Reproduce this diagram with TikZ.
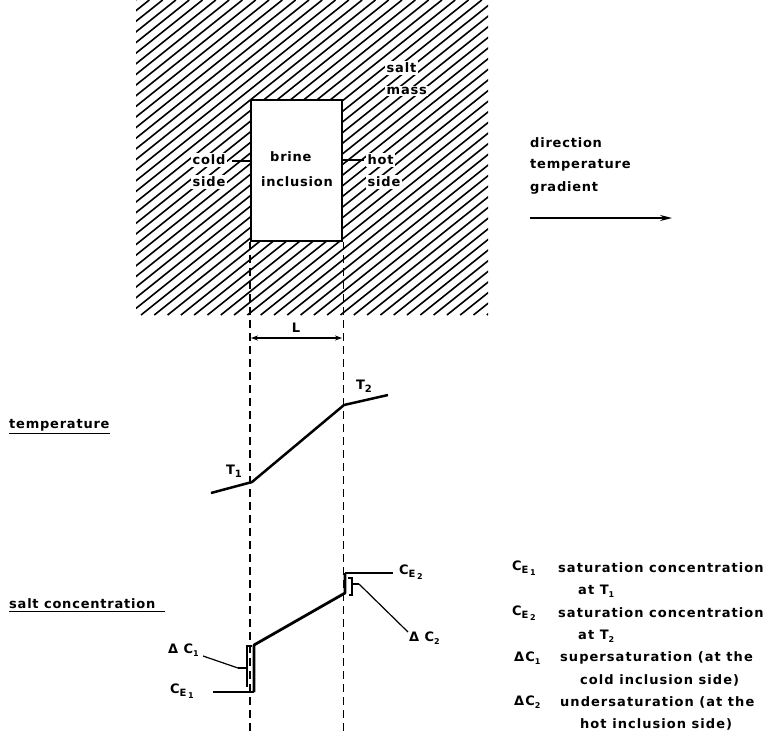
\documentclass[tikz,border=0pt]{standalone}
\usepackage{fontspec}
\setmainfont{DejaVu Sans}[LetterSpace=6]
\newfontfamily\legfont{DejaVu Sans}[LetterSpace=8]
\usetikzlibrary{arrows.meta,calc}
\newcommand{\lowsub}[1]{\raisebox{-0.4ex}{\fontsize{10}{10}\selectfont #1}}
\newcommand{\tinysub}[1]{\raisebox{-0.4ex}{\fontsize{8}{8}\selectfont #1}}
\begin{document}
\begin{tikzpicture}[x=1pt,y=-1pt,
  lbl/.style={font=\fontsize{13}{15}\selectfont\bfseries, inner sep=0pt, anchor=west},
  wlbl/.style={lbl, fill=white, inner sep=1.5pt},
  leg/.style={font=\legfont\fontsize{13}{15}\selectfont\bfseries, inner sep=0pt, anchor=west},
  hatch/.style={line width=1.6pt},
  guide/.style={line width=1.2pt, dash pattern=on 8pt off 5pt},
  curve/.style={line width=2.5pt, line join=round},
  thin/.style={line width=1.2pt},
  brk/.style={line width=1.4pt}]
\useasboundingbox (0,0) rectangle (770,742);
% salt mass hatching
\begin{scope}
  \clip (136,0) rectangle (488,315);
  \foreach \i in {0,...,58} \draw[hatch] ({-258+\i*13.3},315) -- ++(394,-315);
\end{scope}
% brine inclusion
\node[draw, fill=white, line width=2.2pt, minimum width=91pt, minimum height=141pt, inner sep=0pt] (box) at (296.5,170.5) {};
\node[lbl] (brine) at (270,157) {brine};
\node[lbl] (inclusion) at (261,182) {inclusion};
\node[wlbl] (salt) at (385,68) {salt};
\node[wlbl] (mass) at (385,91) {mass};
\node[wlbl] (cold) at (191,160) {cold};
\node[wlbl] (cside) at (191,182) {side};
\node[wlbl] (hot) at (366,160) {hot};
\node[wlbl] (hside) at (366,182) {side};
\coordinate (coldtip) at (232,161);
\coordinate (hottip) at (364,160);
\draw[thin] (coldtip) -- (coldtip -| box.west);
\draw[thin] (hottip) -- (hottip -| box.east);
% guide lines
\coordinate (gbot) at (0,735);
\draw[guide] (box.south west) -- (box.south west |- gbot);
\draw[guide] (box.south east) -- (box.south east |- gbot);
% L dimension
\coordinate (La) at (251,338);
\coordinate (Lb) at (342,338);
\draw[thin, {Stealth[length=7pt,width=5pt]}-{Stealth[length=7pt,width=5pt]}] (La) -- (Lb);
\node[lbl, anchor=center] (L) at (296,328) {L};
% direction
\node[lbl] (dir1) at (530,143) {direction};
\node[lbl] (dir2) at (530,165) {temperature};
\node[lbl] (dir3) at (530,188) {gradient};
\coordinate (da) at (530,218);
\coordinate (db) at (672,218);
\draw[thin, -{Stealth[length=12pt,width=6pt]}] (da) -- (db);
% temperature
\node[lbl] (templbl) at (9,425) {temperature};
\draw[thin] (templbl.south west) ++(0,2) -- ++(101,0);
\coordinate (t0) at (211,493);
\coordinate (t1) at (252,482);
\coordinate (t2) at (344,405);
\coordinate (t3) at (388,395);
\draw[curve] (t0) -- (t1) -- (t2) -- (t3);
\node[lbl, anchor=center] (T1) at (234,471) {T\lowsub{1}};
\node[lbl, anchor=center] (T2) at (364,386) {T\lowsub{2}};
% salt concentration
\node[lbl] (conclbl) at (9,604) {salt concentration};
\draw[thin] (conclbl.south west) ++(0,2) -- ++(156,0);
\coordinate (c0) at (254,692);
\coordinate (c1) at (254,645);
\coordinate (c2) at (345,593);
\coordinate (c3) at (345,573);
\draw[curve, line width=2.8pt, line cap=butt] (c0) -- (c1) -- (c2) -- (c3);
% Delta C1 bracket
\coordinate (b1t) at (247,646);
\coordinate (b1b) at (247,687);
\coordinate (b1m) at (247,668);
\draw[brk] ($(b1t)+(5,0)$) -- (b1t) -- (b1b);
\draw[brk] (b1m) -- ++(-9,0) coordinate (b1tip);
\node[lbl] (dc1) at (168,650) {Δ C\tinysub{1}};
\draw[thin] (203,656) -- (b1tip);
\node[lbl] (ce1) at (170,691) {C\lowsub{E\,\tinysub{1}}};
\draw[thin] (213,692) -- (c0);
% C_E2 and Delta C2
\node[lbl] (ce2) at (399,572) {C\lowsub{E\,\tinysub{2}}};
\draw[thin] (c3) -- (393,573);
\coordinate (b2t) at (352,578);
\coordinate (b2b) at (352,595);
\coordinate (b2m) at (352,584);
\draw[brk] ($(b2t)+(-4,0)$) -- (b2t) -- (b2b) -- ++(-3,0);
\draw[brk] (b2m) -- ++(7,0) coordinate (b2tip);
\node[lbl] (dc2) at (409,638) {Δ C\tinysub{2}};
\draw[thin] (b2tip) -- (408,632);
% legend
\node[leg] (l1a) at (512,568) {C\lowsub{E\,\tinysub{1}}};
\node[leg] (l1b) at (558,568) {saturation concentration};
\node[leg] (l2) at (578,591) {at T\tinysub{1}};
\node[leg] (l3a) at (512,613) {C\lowsub{E\,\tinysub{2}}};
\node[leg] (l3b) at (558,613) {saturation concentration};
\node[leg] (l4) at (578,636) {at T\tinysub{2}};
\node[leg] (l5a) at (514,658) {ΔC\tinysub{1}};
\node[leg] (l5b) at (560,658) {supersaturation (at the};
\node[leg] (l6) at (580,680) {cold inclusion side)};
\node[leg] (l7a) at (514,702) {ΔC\tinysub{2}};
\node[leg] (l7b) at (560,702) {undersaturation (at the};
\node[leg] (l8) at (580,724) {hot inclusion side)};
\end{tikzpicture}
\end{document}
